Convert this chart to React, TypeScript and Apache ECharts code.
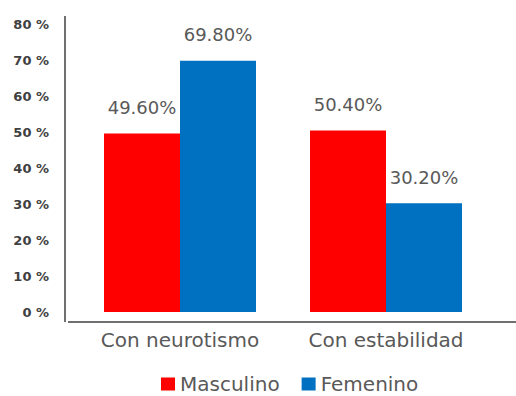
import React, { useEffect, useRef } from "react";
import * as echarts from "echarts";

const categories = ["Con neurotismo", "Con estabilidad"];
const masculino = [49.6, 50.4];
const femenino = [69.8, 30.2];
const seriesNames = ["Masculino", "Femenino"];
const yTicks = { min: 0, max: 80, interval: 10 };

export default function App() {
  const ref = useRef<HTMLDivElement>(null);
  useEffect(() => {
    if (!ref.current) return;
    const chart = echarts.init(ref.current, null, { renderer: "svg" });
    const font = "DejaVu Sans";
    const labelStyle = {
      show: true,
      position: "top",
      distance: 17,
      fontSize: 18,
      fontFamily: font,
      color: "#595959",
      formatter: (p: any) => p.value.toFixed(2) + "%",
    };
    chart.setOption({
      animation: false,
      textStyle: { fontFamily: font },
      grid: { left: 77, right: 27, top: 24, bottom: 84 },
      legend: {
        data: seriesNames,
        left: 156,
        top: 369,
        itemWidth: 14,
        itemHeight: 13,
        itemGap: 22,
        icon: "rect",
        textStyle: { fontSize: 20, color: "#595959", fontFamily: font },
      },
      xAxis: {
        type: "category",
        data: categories,
        offset: 10,
        axisLine: { show: false },
        axisTick: { show: false },
        axisLabel: {
          fontSize: 20,
          color: "#595959",
          fontFamily: font,
          margin: 8,
        },
      },
      yAxis: {
        type: "value",
        min: yTicks.min,
        max: yTicks.max,
        interval: yTicks.interval,
        splitLine: { show: false },
        axisLine: { show: false },
        axisTick: { show: false },
        axisLabel: {
          fontSize: 13,
          fontWeight: "bold",
          color: "#404040",
          fontFamily: font,
          margin: 28,
          formatter: (v: number) => v + " %",
        },
      },
      graphic: [
        {
          type: "line",
          shape: { x1: 65, y1: 16, x2: 65, y2: 322 },
          style: { stroke: "#404040", lineWidth: 1.5 },
        },
        {
          type: "line",
          shape: { x1: 68, y1: 322, x2: 516, y2: 322 },
          style: { stroke: "#404040", lineWidth: 1.5 },
        },
      ],
      series: [
        {
          name: seriesNames[0],
          type: "bar",
          data: masculino,
          barWidth: 76,
          barGap: "0%",
          itemStyle: { color: "#FF0000" },
          label: labelStyle,
        },
        {
          name: seriesNames[1],
          type: "bar",
          data: femenino,
          barWidth: 76,
          barGap: "0%",
          itemStyle: { color: "#0070C0" },
          label: labelStyle,
        },
      ],
    });
    return () => chart.dispose();
  }, []);
  return (
    <div
      ref={ref}
      style={{ position: "absolute", left: 0, top: 0, width: 516, height: 396, background: "#fff" }}
    />
  );
}
